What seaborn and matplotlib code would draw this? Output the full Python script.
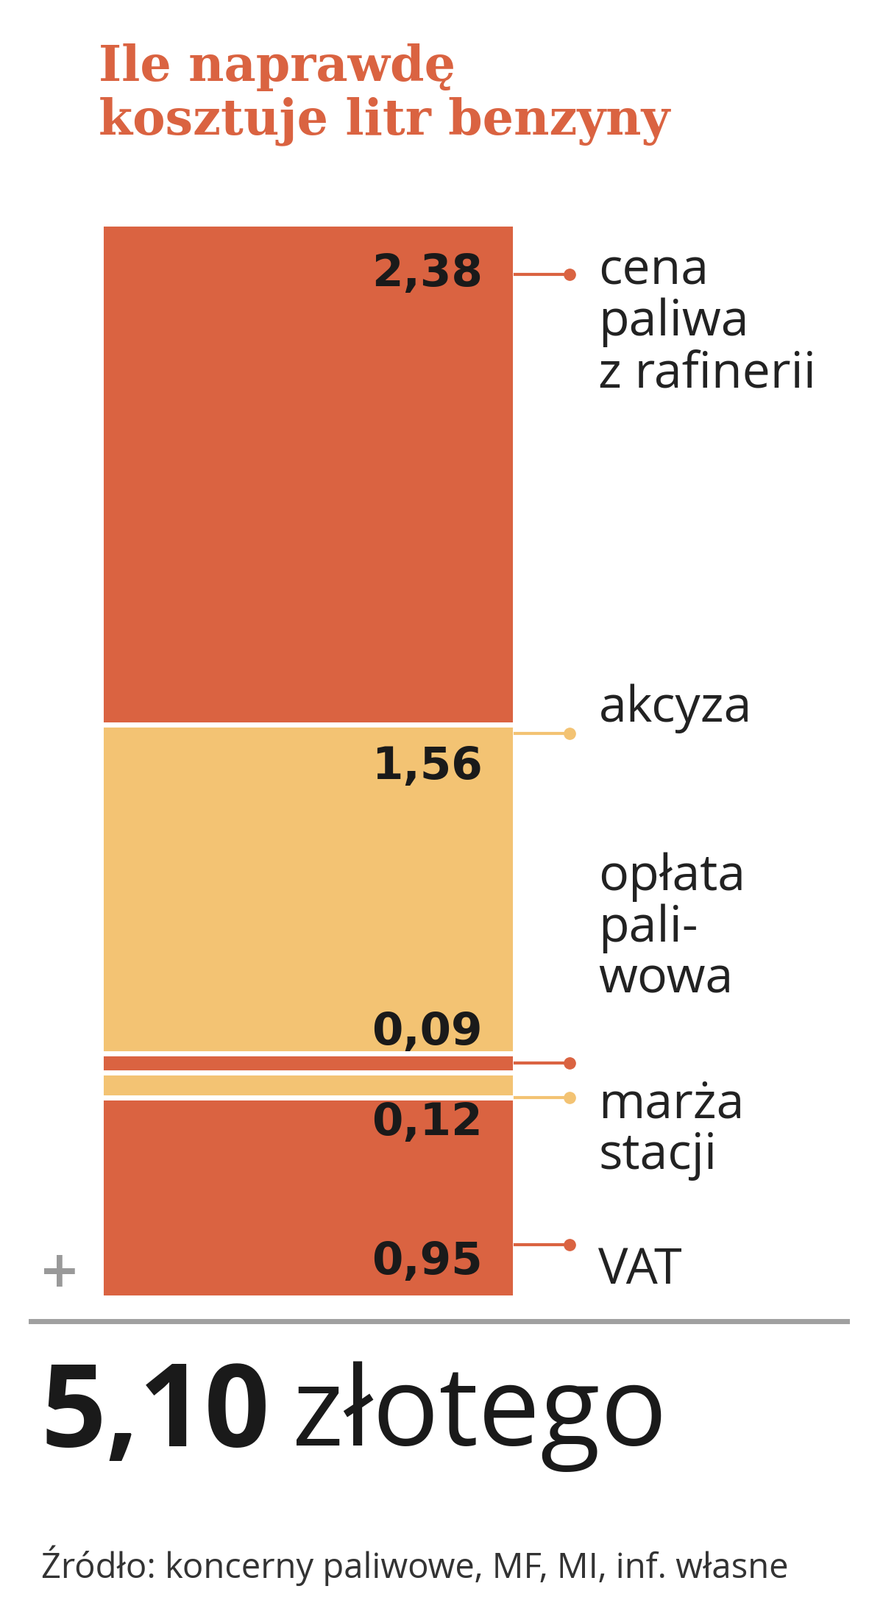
import matplotlib
matplotlib.use("Agg")
import matplotlib.pyplot as plt
import seaborn as sns
import pandas as pd

# data
components = ["cena paliwa z rafinerii", "akcyza", "opłata paliwowa", "marża stacji", "VAT"]
values = [2.38, 1.56, 0.09, 0.12, 0.95]
value_labels = ["2,38", "1,56", "0,09", "0,12", "0,95"]
side_labels = ["cena\npaliwa\nz rafinerii", "akcyza", "opłata\npali-\nwowa", "marża\nstacji", "VAT"]
total_label = "5,10"

RED = "#da6341"
YEL = "#f3c373"
colors = [RED, YEL, RED, YEL, RED]

W, H = 1200, 2175
S = 1200 / 860  # reference scale
fig = plt.figure(figsize=(W / 100, H / 100), dpi=100)

def fx(x):
    return x * S / W

def fy(y):
    return 1 - y * S / H

# bar axes
ax = fig.add_axes([fx(98), fy(1264), fx(502) - fx(98), fy(218) - fy(1264)])
ends = pd.Series(values).cumsum()
starts = ends - pd.Series(values)
# draw from largest cumulative to smallest so each segment is visible
for i in reversed(range(len(values))):
    sns.barplot(x=[0], y=[ends[i]], color=colors[i], width=1.0, ax=ax,
                edgecolor="white", linewidth=5, saturation=1)
ax.set_xlim(-0.5, 0.5)
ax.set_ylim(ends.iloc[-1], 0)
ax.axis("off")

def ydisp(v):
    return ax.transData.transform((0, v))[1] / H

# value label positions (data units), spread apart for the thin segments
label_y = [starts[0] + 0.24, starts[1] + 0.2, starts[2] - 0.1, ends[3] + 0.12, ends[4] - 0.17]
conn_y = [starts[0] + 0.24, starts[1] + 0.04, starts[2] + 0.045, ends[3], starts[4] + 0.7]
for i in range(len(values)):
    fig.text(fx(470), ydisp(label_y[i]), value_labels[i], ha="right", va="center",
             fontsize=44, fontweight="bold", color="#1a1a1a", family="DejaVu Sans")
    cy = ydisp(conn_y[i])
    fig.add_artist(plt.Line2D([fx(502), fx(555)], [cy, cy], color=colors[i], lw=3))
    fig.add_artist(plt.Line2D([fx(555)], [cy], marker="o", ms=11, color=colors[i]))

side_y = [240, 690, 830, 1052, 1238]
for lab, y in zip(side_labels, side_y):
    fig.text(fx(583), fy(y), lab, ha="left", va="top" if "\n" in lab else "center",
             fontsize=49, color="#222222", family="Open Sans", linespacing=1.05)

# title
fig.text(fx(96), fy(42), "Ile naprawdę\nkosztuje litr benzyny", ha="left", va="top",
         fontsize=48, fontweight="bold", color=RED, family="DejaVu Serif", linespacing=1.15)

# plus and rule
fig.text(fx(58), fy(1240), "+", ha="center", va="center", fontsize=48,
         fontweight="bold", color="#999999")
fig.add_artist(plt.Line2D([fx(30), fx(825)], [fy(1287), fy(1287)], color="#a0a0a0", lw=5))

# total
t = fig.text(fx(40), fy(1380), total_label, ha="left", va="center", fontsize=112,
             fontweight="bold", color="#1a1a1a", family="Open Sans")
r = fig.canvas.get_renderer()
bb = t.get_window_extent(renderer=r)
fig.text(bb.x1 / W + 0.025, fy(1380), "złotego", ha="left", va="center", fontsize=108,
         color="#1a1a1a", family="Open Sans")

# source
fig.text(fx(40), fy(1525), "Źródło: koncerny paliwowe, MF, MI, inf. własne", ha="left",
         va="center", fontsize=34, color="#333333", family="Open Sans")

fig.savefig("out.png", dpi=100, facecolor="white")
